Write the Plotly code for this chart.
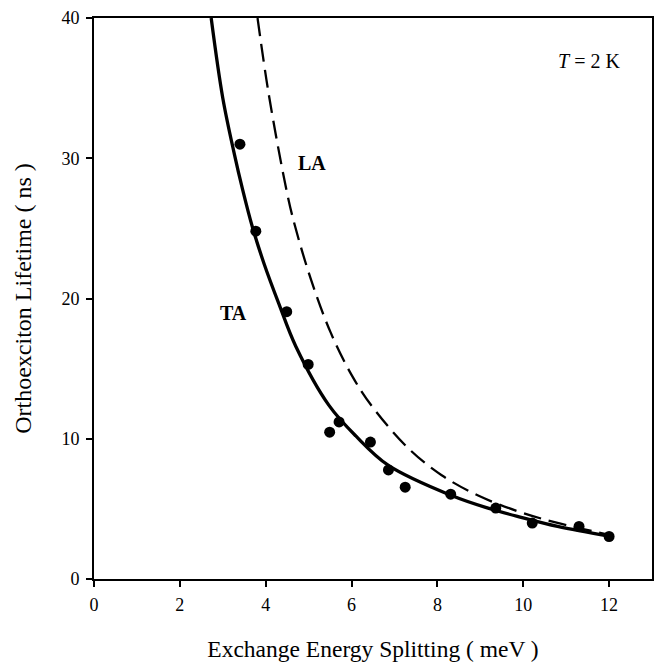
import plotly.graph_objects as go

# Measured data points
data_x = [3.40, 3.77, 4.49, 4.99, 5.49, 5.71, 6.44, 6.86, 7.25, 8.31, 9.36, 10.21, 11.30, 12.00]
data_y = [31.0, 24.8, 19.06, 15.3, 10.47, 11.2, 9.76, 7.78, 6.55, 6.05, 5.06, 3.99, 3.75, 3.03]

# TA (solid) curve
ta_x = [2.73, 3.00, 3.27, 3.46, 3.69, 3.96, 4.31, 4.70, 5.47, 6.10, 6.86, 8.33, 9.18, 9.95, 10.80, 12.04]
ta_y = [40.0, 34.3, 30.3, 27.8, 25.1, 22.5, 19.6, 16.6, 12.4, 10.2, 8.1, 5.95, 5.05, 4.40, 3.75, 3.03]

# LA (dashed) curve
la_x = [3.81, 4.08, 4.50, 4.68, 5.05, 5.51, 6.01, 6.48, 7.33, 8.10, 8.95, 9.95, 10.80, 12.00]
la_y = [40.0, 34.4, 27.5, 25.2, 21.4, 17.6, 14.5, 12.3, 9.3, 7.4, 5.95, 4.75, 4.00, 3.15]

x_ticks = [0, 2, 4, 6, 8, 10, 12]
y_ticks = [0, 10, 20, 30, 40]

FONT = "Liberation Serif, Times New Roman, serif"

fig = go.Figure()
fig.add_trace(go.Scatter(x=la_x, y=la_y, mode="lines", line_shape="spline",
                         line=dict(color="black", width=2.3, dash="18px,8px"),
                         showlegend=False, hoverinfo="skip"))
fig.add_trace(go.Scatter(x=ta_x, y=ta_y, mode="lines", line_shape="spline",
                         line=dict(color="black", width=3.3),
                         showlegend=False, hoverinfo="skip"))
fig.add_trace(go.Scatter(x=data_x, y=data_y, mode="markers",
                         marker=dict(color="black", size=11),
                         showlegend=False))

fig.add_annotation(x=5.08, y=29.65, text="<b>LA</b>", showarrow=False,
                   font=dict(family=FONT, size=20, color="black"))
fig.add_annotation(x=3.25, y=18.97, text="<b>TA</b>", showarrow=False,
                   font=dict(family=FONT, size=20, color="black"))
fig.add_annotation(x=11.54, y=36.9, text="<i>T</i> = 2 K", showarrow=False,
                   font=dict(family=FONT, size=20, color="black"))

fig.update_layout(
    width=657, height=667,
    margin=dict(l=94, r=3, t=18, b=88),
    paper_bgcolor="white", plot_bgcolor="white",
    font=dict(family=FONT, size=18, color="black"),
    xaxis=dict(range=[0, 13], tickvals=x_ticks, ticks="outside", ticklen=6,
               tickwidth=2, tickcolor="black", showline=True, linewidth=2,
               linecolor="black", mirror=True, showgrid=False, zeroline=False,
               tickfont=dict(size=18), ticklabelstandoff=2,
               title=dict(text="Exchange Energy Splitting ( meV )",
                          font=dict(size=23.5), standoff=27)),
    yaxis=dict(range=[0, 40], tickvals=y_ticks, ticks="outside", ticklen=6,
               tickwidth=2, tickcolor="black", showline=True, linewidth=2,
               linecolor="black", mirror=True, showgrid=False, zeroline=False,
               tickfont=dict(size=18), ticklabelstandoff=3,
               title=dict(text="Orthoexciton Lifetime ( ns )",
                          font=dict(size=24), standoff=23)),
)

fig.write_html("out.html")
